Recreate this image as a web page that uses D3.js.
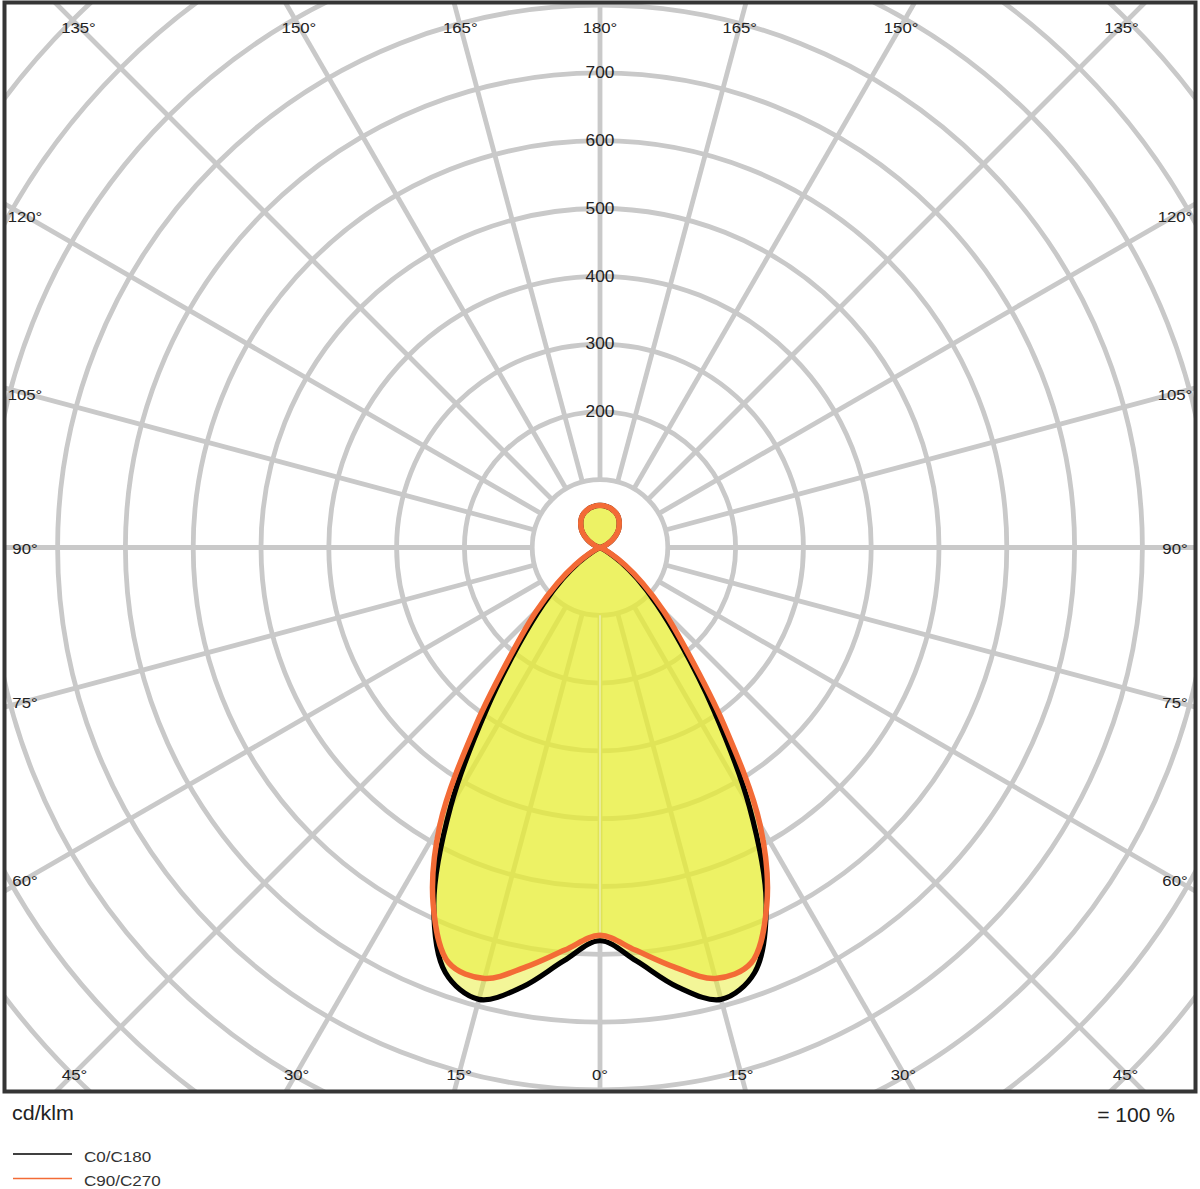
<!DOCTYPE html>
<html>
<head>
<meta charset="utf-8">
<script src="https://cdn.jsdelivr.net/npm/d3@7"></script>
<style>
  html, body { margin: 0; padding: 0; background: #fff; }
  svg { display: block; font-family: "Liberation Sans", Arial, Helvetica, sans-serif; }
</style>
</head>
<body>
<svg id="chart" width="1200" height="1189"></svg>
<script>
// ---- data (cd/klm), gamma angles in degrees, symmetric planes ----
const gammas = [0,5,10,15,20,25,30,35,40,45,50,55,60,65,70,75,80,85,90,95,100,105,110,115,120,125,130,135,140,145,150,155,160,165,170,175,180];
const c0c180 = [580,612,658,690,667,580,440,292,185,118,72,38,14,3,0,0,0,0,0,0,1,3,7,12,19,26,33,39,44,49,53,56,58,60,61,62,62];
const c90c270 = [572,596,628,658,652,582,472,318,200,133,82,45,18,5,0,0,0,0,0,0,1,3,7,12,19,26,33,39,44,49,53,56,58,60,61,62,62];
const ringValues = [100,200,300,400,500,600,700,800,900,1000,1100,1200];
const ringLabels = [200,300,400,500,600,700];
const radialAngles = [0,15,30,45,60,75,90,105,120,135,150,165,180];
const seriesNames = ["C0/C180","C90/C270"];
const unitLabel = "cd/klm";
const percentLabel = "= 100 %";

// ---- layout ----
const W = 1200, H = 1189;
const CX = 600, CY = 547.5;
const frame = {x: 4.5, y: 2.5, w: 1191, h: 1089};
const labelBox = {x0: 25, x1: 1175, y0: 26, y1: 1073};
const rScale = d3.scaleLinear().domain([0, 100]).range([0, 67.8]);
const toRad = d => d * Math.PI / 180;

const svg = d3.select("#chart");
const defs = svg.append("defs");
defs.append("clipPath").attr("id", "clip")
  .append("rect").attr("x", frame.x).attr("y", frame.y).attr("width", frame.w).attr("height", frame.h);

const plot = svg.append("g").attr("clip-path", "url(#clip)");
const g = plot.append("g").attr("transform", `translate(${CX},${CY})`);

const gridColor = "#c9c9c9";
g.selectAll("circle.ring").data(ringValues).join("circle")
  .attr("class", "ring")
  .attr("r", d => rScale(d))
  .attr("fill", "none").attr("stroke", gridColor).attr("stroke-width", 4.8);

const dirs = [];
radialAngles.forEach(a => {
  dirs.push({gamma: a, side: -1});
  if (a !== 0 && a !== 180) dirs.push({gamma: a, side: 1});
});
const rMax = rScale(1300);
g.selectAll("line.radial").data(dirs).join("line")
  .attr("class", "radial")
  .attr("x1", d => d.side * rScale(100) * Math.sin(toRad(d.gamma)))
  .attr("y1", d => rScale(100) * Math.cos(toRad(d.gamma)))
  .attr("x2", d => d.side * rMax * Math.sin(toRad(d.gamma)))
  .attr("y2", d => rMax * Math.cos(toRad(d.gamma)))
  .attr("stroke", gridColor).attr("stroke-width", 4.8);

// ---- curves ----
function buildPoints(vals) {
  const pts = [];
  gammas.forEach((gm, i) => pts.push([Math.PI + toRad(gm), rScale(vals[i])]));
  for (let i = gammas.length - 2; i >= 1; i--) {
    pts.push([3 * Math.PI - toRad(gammas[i]), rScale(vals[i])]);
  }
  return pts;
}
const radialLine = d3.lineRadial()
  .angle(d => d[0]).radius(d => d[1])
  .curve(d3.curveCatmullRomClosed.alpha(0.5));

const series = [
  {name: seriesNames[0], vals: c0c180, color: "#000000", width: 5.2},
  {name: seriesNames[1], vals: c90c270, color: "#f36b36", width: 5.5}
];

series.forEach(s => {
  g.append("path").attr("d", radialLine(buildPoints(s.vals)))
    .attr("fill", "rgb(232,238,50)").attr("fill-opacity", 0.5).attr("stroke", "none");
});
g.append("line")
  .attr("x1", 0).attr("y1", rScale(100))
  .attr("x2", 0).attr("y2", rScale(d3.min([c0c180[0], c90c270[0]])) - 2)
  .attr("stroke", "#f2f4d8").attr("stroke-width", 1.3).attr("stroke-opacity", 0.8);
series.forEach(s => {
  g.append("path").attr("d", radialLine(buildPoints(s.vals)))
    .attr("fill", "none").attr("stroke", s.color).attr("stroke-width", s.width)
    .attr("stroke-linejoin", "round");
});

function wideText(sel, x, y, sx) {
  return sel.attr("transform", (d, i) => {
    const xx = typeof x === "function" ? x(d, i) : x;
    const yy = typeof y === "function" ? y(d, i) : y;
    return `translate(${xx},${yy}) scale(${sx},1)`;
  });
}

// ---- ring labels ----
wideText(
  g.selectAll("text.ringlab").data(ringLabels).join("text")
    .attr("class", "ringlab")
    .attr("text-anchor", "middle").attr("dominant-baseline", "central")
    .attr("font-size", 16).attr("fill", "#222")
    .text(d => d),
  0, d => -rScale(d), 1.08);

// ---- angle labels ----
function labelPos(d) {
  const dx = d.side * Math.sin(toRad(d.gamma));
  const dy = Math.cos(toRad(d.gamma));
  let t = Infinity;
  if (dx < -1e-9) t = Math.min(t, (labelBox.x0 - CX) / dx);
  if (dx > 1e-9) t = Math.min(t, (labelBox.x1 - CX) / dx);
  if (dy < -1e-9) t = Math.min(t, (labelBox.y0 - CY) / dy);
  if (dy > 1e-9) t = Math.min(t, (labelBox.y1 - CY) / dy);
  return [CX + t * dx, CY + t * dy];
}
wideText(
  plot.selectAll("text.anglab").data(dirs).join("text")
    .attr("class", "anglab")
    .attr("text-anchor", "middle").attr("dominant-baseline", "central")
    .attr("font-size", 15.5).attr("fill", "#222")
    .text(d => d.gamma + "°"),
  d => labelPos(d)[0], d => labelPos(d)[1] + 1, 1.08);

// ---- frame ----
svg.append("rect")
  .attr("x", frame.x).attr("y", frame.y).attr("width", frame.w).attr("height", frame.h)
  .attr("fill", "none").attr("stroke", "#353535").attr("stroke-width", 4);

// ---- footer ----
wideText(svg.append("text")
  .attr("dominant-baseline", "central").attr("font-size", 19.5).attr("fill", "#222")
  .text(unitLabel), 12, 1113, 1.1);
wideText(svg.append("text")
  .attr("text-anchor", "end").attr("dominant-baseline", "central")
  .attr("font-size", 19.5).attr("fill", "#222")
  .text(percentLabel), 1175, 1115, 1.08);

const legend = svg.append("g");
series.forEach((s, i) => {
  const y = 1154 + i * 24.5;
  legend.append("line").attr("x1", 13).attr("x2", 72).attr("y1", y).attr("y2", y)
    .attr("stroke", s.color).attr("stroke-width", 1.5);
  wideText(legend.append("text")
    .attr("dominant-baseline", "central").attr("font-size", 15.5).attr("fill", "#333")
    .text(s.name), 84, y + 2, 1.1);
});
</script>
</body>
</html>
